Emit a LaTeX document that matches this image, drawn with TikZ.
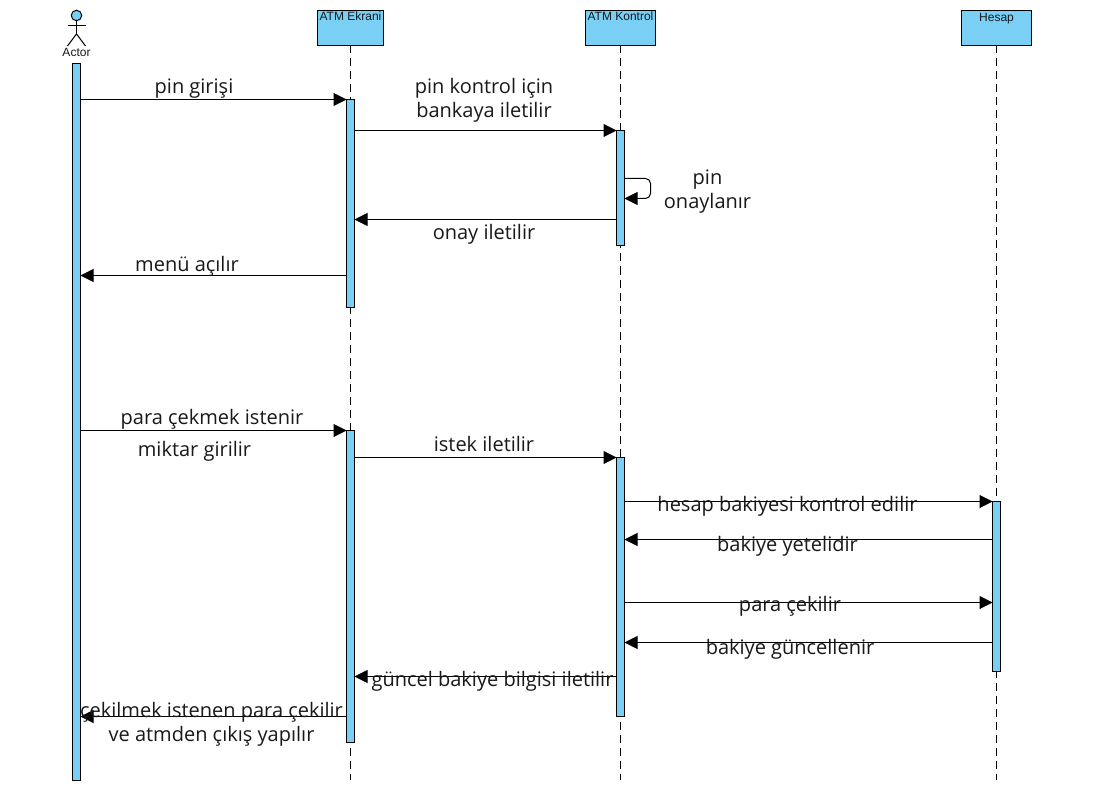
\documentclass[tikz,border=0pt]{standalone}
\usepackage{fontspec}
\setmainfont{Open Sans}
\newfontfamily\headfont{Liberation Sans}
\usetikzlibrary{arrows.meta}
\definecolor{barblue}{HTML}{7ACFF5}
\tikzset{
  lifehead/.style={draw=black,line width=1pt,fill=barblue,minimum width=#1,minimum height=35pt,inner sep=0pt,outer sep=0pt},
  headtext/.style={font=\headfont\fontsize{12}{14}\selectfont,text=black!90,inner sep=0pt,anchor=base},
  actbar/.style={draw=black,line width=1pt,fill=barblue,minimum width=8pt,minimum height=#1,inner sep=0pt,outer sep=0pt},
  lifeline/.style={draw=black,line width=1pt,dash pattern=on 8pt off 5pt},
  msg/.style={draw=black,line width=1pt,-{Triangle[length=13pt,width=13pt]}},
  msgtext/.style={font=\fontsize{20}{24}\selectfont,text=black!90,inner sep=0pt,align=center,yshift=-2.2pt,execute at begin node=\strut,execute at end node=\strut},
  actorline/.style={draw=black,line width=1pt}
}
\begin{document}
\begin{tikzpicture}[x=1pt,y=-1pt]
\useasboundingbox (0,0) rectangle (1094,786);
\fill[white] (0,0) rectangle (1094,786);
% lifeline heads
\node[lifehead=66pt] (ekran) at (350.5,28) {};
\node[lifehead=70pt] (kontrol) at (620.5,28) {};
\node[lifehead=70pt] (hesap) at (996.5,28) {};
\node[headtext] (ekrant) at (350.5,21) {ATM Ekrani};
\node[headtext] (kontrolt) at (620.5,21) {ATM Kontrol};
\node[headtext] (hesapt) at (996.5,21.5) {Hesap};
% lifeline ends
\coordinate (ekranend) at (350.5,780);
\coordinate (kontrolend) at (620.5,780);
\coordinate (hesapend) at (996.5,780);
\draw[lifeline] (ekran.south) -- (ekranend);
\draw[lifeline] (kontrol.south) -- (kontrolend);
\draw[lifeline] (hesap.south) -- (hesapend);
% actor
\node[circle,draw=black,line width=1pt,fill=barblue,minimum size=10.5pt,inner sep=0pt,outer sep=0pt] (acthead) at (76.5,15.5) {};
\coordinate (hip) at (76.5,34);
\coordinate (arml) at (67.5,26);
\coordinate (armr) at (85.5,26);
\coordinate (legl) at (67.5,46);
\coordinate (legr) at (85.5,46);
\draw[actorline] (acthead.south) -- (hip);
\draw[actorline] (arml) -- (armr);
\draw[actorline] (legl) -- (hip) -- (legr);
\node[headtext] (actlabel) at (76.5,57) {Actor};
% activation bars
\node[actbar=717pt] (a0) at (76.5,422) {};
\node[actbar=208pt] (e1) at (350.5,203.5) {};
\node[actbar=312pt] (e2) at (350.5,586.5) {};
\node[actbar=115pt] (k1) at (620.5,188) {};
\node[actbar=259pt] (k2) at (620.5,587) {};
\node[actbar=170pt] (h1) at (996.5,586.5) {};
% messages
\draw[msg] (a0.east |- 0,99.5) coordinate (m1s) -- (e1.west |- m1s);
\draw[msg] (e1.east |- 0,130.5) coordinate (m2s) -- (k1.west |- m2s);
\draw[line width=1pt,draw=black,rounded corners=5pt,-{Triangle[length=13pt,width=13pt]}]
  (k1.east |- 0,178.5) coordinate (m3s) -- (650.5,178.5) -- (650.5,198.5) -- (k1.east |- 0,198.5);
\draw[msg] (k1.west |- 0,219.5) coordinate (m4s) -- (e1.east |- m4s);
\draw[msg] (e1.west |- 0,275.5) coordinate (m5s) -- (a0.east |- m5s);
\draw[msg] (a0.east |- 0,430.5) coordinate (m6s) -- (e2.west |- m6s);
\draw[msg] (e2.east |- 0,457.5) coordinate (m7s) -- (k2.west |- m7s);
\draw[msg] (k2.east |- 0,501.5) coordinate (m8s) -- (h1.west |- m8s);
\draw[msg] (h1.west |- 0,539.5) coordinate (m9s) -- (k2.east |- m9s);
\draw[msg] (k2.east |- 0,602.5) coordinate (m10s) -- (h1.west |- m10s);
\draw[msg] (h1.west |- 0,642.5) coordinate (m11s) -- (k2.east |- m11s);
\draw[msg] (k2.west |- 0,676.5) coordinate (m12s) -- (e2.east |- m12s);
\draw[msg] (e2.west |- 0,716.5) coordinate (m13s) -- (a0.east |- m13s);
% labels
\node[msgtext] (t1) at (194,86.5) {pin girişi};
\node[msgtext] (t2) at (484,99) {pin kontrol için\\bankaya iletilir};
\node[msgtext] (t3) at (707.5,191) {pin\\onaylanır};
\node[msgtext] (t4) at (484,232.5) {onay iletilir};
\node[msgtext] (t5) at (187,264) {menü açılır};
\node[msgtext] (t6) at (212,417) {para çekmek istenir};
\node[msgtext] (t7) at (194.5,449) {miktar girilir};
\node[msgtext] (t8) at (484,444) {istek iletilir};
\node[msgtext] (t9) at (787.5,504) {hesap bakiyesi kontrol edilir};
\node[msgtext] (t10) at (787.5,544) {bakiye yetelidir};
\node[msgtext] (t11) at (790,604) {para çekilir};
\node[msgtext] (t12) at (790,647) {bakiye güncellenir};
\node[msgtext] (t13) at (492.5,679) {güncel bakiye bilgisi iletilir};
\node[msgtext] (t14) at (211.5,723.5) {çekilmek istenen para çekilir\\ve atmden çıkış yapılır};
\end{tikzpicture}
\end{document}
